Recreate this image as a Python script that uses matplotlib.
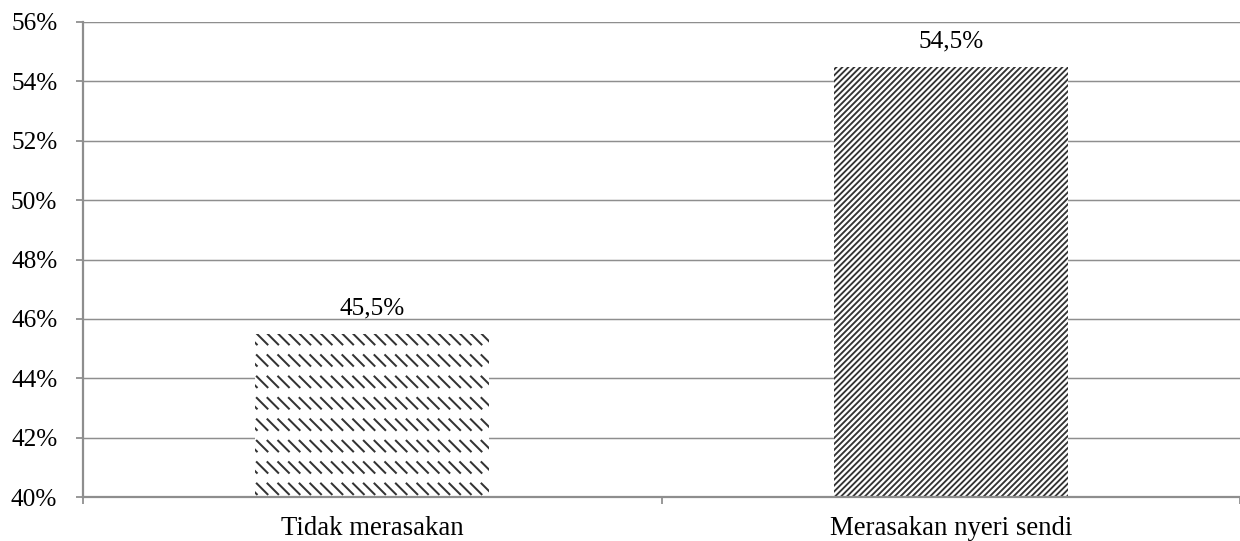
import warnings
import matplotlib
matplotlib.use("Agg")
import matplotlib.pyplot as plt
import matplotlib.hatch as mhatch
from matplotlib.path import Path
from matplotlib.ticker import FuncFormatter

warnings.filterwarnings("ignore")

categories = ["Tidak merasakan", "Merasakan nyeri sendi"]
values = [45.5, 54.5]
value_labels = ["45,5%", "54,5%"]
yticks = [40, 42, 44, 46, 48, 50, 52, 54, 56]


class DashedRows(mhatch.HatchPatternBase):
    """Rows of short downward-diagonal dashes (Excel 'dashed downward diagonal')."""
    rows = 5
    cols = 10
    phase = 0.405

    def __init__(self, hatch, density):
        self.n = hatch.count('d')
        self.num_vertices = 0 if self.n == 0 else (self.rows + 2) * (self.cols + 2) * 2

    def set_vertices_and_codes(self, vertices, codes):
        k = 0
        for r in range(-1, self.rows + 1):
            ytop = (r + self.phase) / self.rows
            ybot = ytop - 0.5 / self.rows
            for c in range(-1, self.cols + 1):
                x0 = c / self.cols
                vertices[k] = (x0, ytop)
                vertices[k + 1] = (x0 + 1 / self.cols, ybot)
                codes[k] = Path.MOVETO
                codes[k + 1] = Path.LINETO
                k += 2


mhatch._hatch_types.append(DashedRows)

DPI = 107
plt.rcParams['font.family'] = ['Liberation Serif', 'DejaVu Serif']
plt.rcParams['font.size'] = 17
plt.rcParams['hatch.linewidth'] = 1.3

fig = plt.figure(figsize=(1240 / DPI, 541 / DPI), dpi=DPI)
ax = fig.add_axes([83 / 1240, 1 - 497 / 541, (1240 - 83) / 1240, (497 - 22) / 541])

grid_c = '#8e8e8e'
hatch_c = '#333333'
x = list(range(len(categories)))
width = 0.4045
hatches = ['d', '//////']

for i in x:
    b = ax.bar(i, values[i], width=width, color='white', edgecolor=hatch_c,
               linewidth=0, hatch=hatches[i], zorder=3)
    for p in b:
        p.set_hatch_linewidth(1.35 if i == 0 else 1.25)
        p._hatch_color = matplotlib.colors.to_rgba(hatch_c)

for i in x:
    ax.text(i, values[i] + 0.48, value_labels[i], ha='center', va='bottom')

ax.set_xlim(-0.5, 1.5)
ax.set_ylim(40, 56)
ax.set_yticks(yticks)
ax.yaxis.set_major_formatter(FuncFormatter(lambda v, p: f"{int(v)}%"))
ax.set_xticks(x)
ax.set_xticklabels(categories, fontsize=18)
ax.set_xticks([-0.5, 0.5, 1.5], minor=True)
ax.tick_params(axis='x', which='major', length=0, pad=13)
ax.tick_params(axis='x', which='minor', length=4.5, color=grid_c, width=1.2)
ax.tick_params(axis='y', length=4.8, color=grid_c, width=1.2, pad=12.5)

ax.yaxis.grid(True, color=grid_c, linewidth=1.0, zorder=0)
ax.set_axisbelow(True)
for s in ['top', 'right']:
    ax.spines[s].set_visible(False)
for s in ['left', 'bottom']:
    ax.spines[s].set_color(grid_c)
    ax.spines[s].set_linewidth(1.5)
    ax.spines[s].set_zorder(5)

fig.savefig('out.png', dpi=DPI)
